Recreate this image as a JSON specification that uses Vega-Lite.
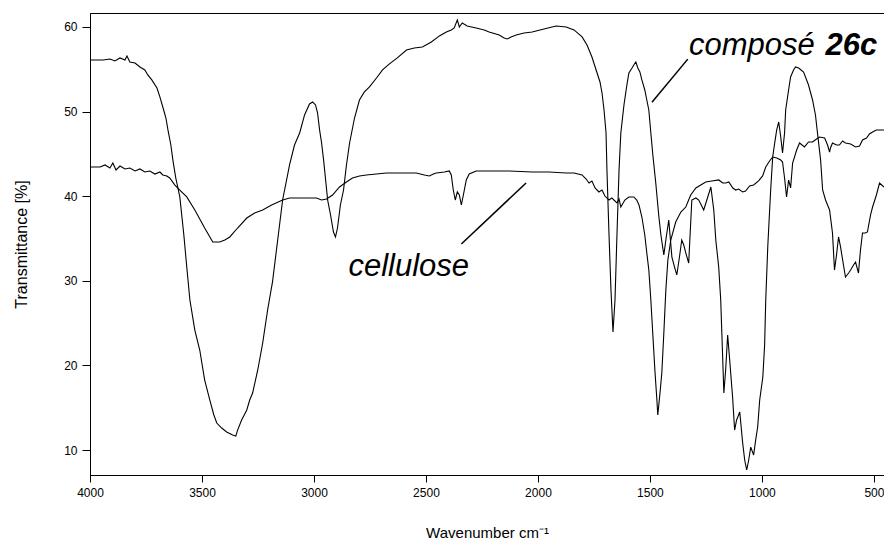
{
  "$schema": "https://vega.github.io/schema/vega-lite/v6.json",
  "width": 794,
  "height": 462,
  "autosize": {"type": "none"},
  "padding": {"left": 90, "top": 13, "right": 0, "bottom": 67},
  "background": "white",
  "config": {
    "view": {"stroke": "black", "strokeWidth": 1},
    "axis": {
      "grid": false,
      "domainColor": "black",
      "tickColor": "black",
      "labelColor": "black",
      "titleColor": "black",
      "labelFont": "Liberation Sans",
      "titleFont": "Liberation Sans",
      "labelFontSize": 12,
      "titleFontSize": 15,
      "titleFontWeight": "normal"
    }
  },
  "datasets": {
    "spectra": [
      {"s":"composé","w":4000,"T":56.10},{"s":"composé","w":3942,"T":56.10},{"s":"composé","w":3911,"T":56.22},{"s":"composé","w":3889,"T":55.98},{"s":"composé","w":3866,"T":56.34},{"s":"composé","w":3844,"T":56.10},{"s":"composé","w":3835,"T":56.57},{"s":"composé","w":3822,"T":55.86},{"s":"composé","w":3799,"T":55.74},{"s":"composé","w":3777,"T":55.27},{"s":"composé","w":3755,"T":54.92},{"s":"composé","w":3742,"T":54.33},{"s":"composé","w":3724,"T":53.74},{"s":"composé","w":3701,"T":52.79},{"s":"composé","w":3688,"T":51.73},{"s":"composé","w":3675,"T":50.54},{"s":"composé","w":3661,"T":49.24},{"s":"composé","w":3652,"T":47.83},{"s":"composé","w":3639,"T":46.05},{"s":"composé","w":3630,"T":44.27},{"s":"composé","w":3617,"T":42.15},{"s":"composé","w":3599,"T":39.91},{"s":"composé","w":3581,"T":35.41},{"s":"composé","w":3568,"T":31.63},{"s":"composé","w":3554,"T":27.73},{"s":"composé","w":3532,"T":24.18},{"s":"composé","w":3510,"T":21.82},{"s":"composé","w":3488,"T":18.27},{"s":"composé","w":3465,"T":15.91},{"s":"composé","w":3447,"T":14.14},{"s":"composé","w":3434,"T":13.19},{"s":"composé","w":3412,"T":12.60},{"s":"composé","w":3390,"T":12.13},{"s":"composé","w":3363,"T":11.77},{"s":"composé","w":3349,"T":11.65},{"s":"composé","w":3341,"T":12.36},{"s":"composé","w":3323,"T":13.55},{"s":"composé","w":3300,"T":14.73},{"s":"composé","w":3287,"T":15.91},{"s":"composé","w":3274,"T":16.74},{"s":"composé","w":3251,"T":19.46},{"s":"composé","w":3229,"T":22.65},{"s":"composé","w":3207,"T":26.55},{"s":"composé","w":3185,"T":29.91},{"s":"composé","w":3162,"T":34.82},{"s":"composé","w":3140,"T":39.55},{"s":"composé","w":3109,"T":43.69},{"s":"composé","w":3087,"T":46.05},{"s":"composé","w":3064,"T":47.47},{"s":"composé","w":3042,"T":49.60},{"s":"composé","w":3020,"T":50.90},{"s":"composé","w":3006,"T":51.13},{"s":"composé","w":2993,"T":50.78},{"s":"composé","w":2984,"T":49.83},{"s":"composé","w":2975,"T":47.83},{"s":"composé","w":2966,"T":46.29},{"s":"composé","w":2957,"T":44.27},{"s":"composé","w":2948,"T":41.91},{"s":"composé","w":2939,"T":39.55},{"s":"composé","w":2926,"T":37.78},{"s":"composé","w":2913,"T":35.77},{"s":"composé","w":2904,"T":35.18},{"s":"composé","w":2895,"T":36.24},{"s":"composé","w":2882,"T":38.96},{"s":"composé","w":2868,"T":40.73},{"s":"composé","w":2855,"T":43.69},{"s":"composé","w":2841,"T":46.29},{"s":"composé","w":2819,"T":49.24},{"s":"composé","w":2797,"T":51.37},{"s":"composé","w":2775,"T":52.32},{"s":"composé","w":2752,"T":52.91},{"s":"composé","w":2721,"T":53.97},{"s":"composé","w":2694,"T":54.92},{"s":"composé","w":2663,"T":55.63},{"s":"composé","w":2628,"T":56.34},{"s":"composé","w":2587,"T":57.28},{"s":"composé","w":2552,"T":57.52},{"s":"composé","w":2516,"T":57.64},{"s":"composé","w":2476,"T":58.23},{"s":"composé","w":2440,"T":58.94},{"s":"composé","w":2409,"T":59.41},{"s":"composé","w":2387,"T":59.65},{"s":"composé","w":2374,"T":59.88},{"s":"composé","w":2360,"T":60.83},{"s":"composé","w":2351,"T":60.00},{"s":"composé","w":2338,"T":60.47},{"s":"composé","w":2316,"T":60.12},{"s":"composé","w":2276,"T":59.88},{"s":"composé","w":2240,"T":59.65},{"s":"composé","w":2218,"T":59.41},{"s":"composé","w":2173,"T":59.05},{"s":"composé","w":2151,"T":58.70},{"s":"composé","w":2137,"T":58.58},{"s":"composé","w":2120,"T":58.82},{"s":"composé","w":2097,"T":59.05},{"s":"composé","w":2062,"T":59.29},{"s":"composé","w":2026,"T":59.41},{"s":"composé","w":1973,"T":59.76},{"s":"composé","w":1919,"T":60.12},{"s":"composé","w":1874,"T":60.00},{"s":"composé","w":1839,"T":59.65},{"s":"composé","w":1803,"T":58.82},{"s":"composé","w":1781,"T":57.87},{"s":"composé","w":1759,"T":56.45},{"s":"composé","w":1736,"T":54.56},{"s":"composé","w":1723,"T":53.50},{"s":"composé","w":1714,"T":52.20},{"s":"composé","w":1705,"T":50.19},{"s":"composé","w":1696,"T":47.47},{"s":"composé","w":1692,"T":43.10},{"s":"composé","w":1683,"T":35.65},{"s":"composé","w":1674,"T":28.91},{"s":"composé","w":1665,"T":23.95},{"s":"composé","w":1656,"T":27.73},{"s":"composé","w":1647,"T":35.65},{"s":"composé","w":1638,"T":43.10},{"s":"composé","w":1630,"T":47.47},{"s":"composé","w":1616,"T":50.78},{"s":"composé","w":1603,"T":53.14},{"s":"composé","w":1594,"T":54.56},{"s":"composé","w":1580,"T":55.15},{"s":"composé","w":1572,"T":55.51},{"s":"composé","w":1563,"T":55.86},{"s":"composé","w":1554,"T":55.15},{"s":"composé","w":1545,"T":54.68},{"s":"composé","w":1536,"T":53.74},{"s":"composé","w":1523,"T":52.55},{"s":"composé","w":1514,"T":51.37},{"s":"composé","w":1505,"T":50.19},{"s":"composé","w":1496,"T":47.47},{"s":"composé","w":1487,"T":44.87},{"s":"composé","w":1474,"T":41.56},{"s":"composé","w":1460,"T":37.54},{"s":"composé","w":1451,"T":35.41},{"s":"composé","w":1438,"T":33.05},{"s":"composé","w":1429,"T":34.82},{"s":"composé","w":1416,"T":37.19},{"s":"composé","w":1402,"T":32.81},{"s":"composé","w":1389,"T":31.51},{"s":"composé","w":1380,"T":30.69},{"s":"composé","w":1367,"T":33.05},{"s":"composé","w":1358,"T":34.82},{"s":"composé","w":1349,"T":34.23},{"s":"composé","w":1340,"T":33.29},{"s":"composé","w":1327,"T":32.10},{"s":"composé","w":1313,"T":39.55},{"s":"composé","w":1295,"T":39.79},{"s":"composé","w":1282,"T":39.55},{"s":"composé","w":1260,"T":38.37},{"s":"composé","w":1246,"T":39.55},{"s":"composé","w":1228,"T":41.09},{"s":"composé","w":1215,"T":38.37},{"s":"composé","w":1206,"T":34.82},{"s":"composé","w":1193,"T":31.63},{"s":"composé","w":1184,"T":27.73},{"s":"composé","w":1179,"T":23.83},{"s":"composé","w":1170,"T":16.74},{"s":"composé","w":1162,"T":19.46},{"s":"composé","w":1153,"T":23.59},{"s":"composé","w":1144,"T":20.64},{"s":"composé","w":1131,"T":16.26},{"s":"composé","w":1122,"T":12.36},{"s":"composé","w":1113,"T":13.55},{"s":"composé","w":1099,"T":14.49},{"s":"composé","w":1086,"T":10.83},{"s":"composé","w":1077,"T":8.82},{"s":"composé","w":1068,"T":7.64},{"s":"composé","w":1059,"T":8.82},{"s":"composé","w":1050,"T":10.35},{"s":"composé","w":1037,"T":9.41},{"s":"composé","w":1028,"T":11.18},{"s":"composé","w":1019,"T":12.72},{"s":"composé","w":1010,"T":15.91},{"s":"composé","w":996,"T":18.63},{"s":"composé","w":988,"T":22.41},{"s":"composé","w":983,"T":27.73},{"s":"composé","w":974,"T":34.00},{"s":"composé","w":961,"T":40.73},{"s":"composé","w":952,"T":44.63},{"s":"composé","w":943,"T":46.29},{"s":"composé","w":934,"T":47.83},{"s":"composé","w":925,"T":48.77},{"s":"composé","w":916,"T":47.00},{"s":"composé","w":908,"T":45.11},{"s":"composé","w":899,"T":47.47},{"s":"composé","w":894,"T":50.19},{"s":"composé","w":881,"T":52.55},{"s":"composé","w":872,"T":54.09},{"s":"composé","w":859,"T":54.92},{"s":"composé","w":850,"T":55.27},{"s":"composé","w":836,"T":55.15},{"s":"composé","w":814,"T":54.68},{"s":"composé","w":792,"T":53.14},{"s":"composé","w":774,"T":51.37},{"s":"composé","w":761,"T":49.60},{"s":"composé","w":752,"T":47.47},{"s":"composé","w":738,"T":44.27},{"s":"composé","w":729,"T":40.73},{"s":"composé","w":716,"T":39.55},{"s":"composé","w":707,"T":38.96},{"s":"composé","w":698,"T":38.37},{"s":"composé","w":685,"T":35.65},{"s":"composé","w":676,"T":31.28},{"s":"composé","w":667,"T":33.05},{"s":"composé","w":658,"T":35.18},{"s":"composé","w":649,"T":34.00},{"s":"composé","w":636,"T":31.87},{"s":"composé","w":627,"T":30.45},{"s":"composé","w":613,"T":30.92},{"s":"composé","w":604,"T":31.28},{"s":"composé","w":591,"T":31.87},{"s":"composé","w":582,"T":32.22},{"s":"composé","w":569,"T":30.92},{"s":"composé","w":560,"T":33.64},{"s":"composé","w":551,"T":35.65},{"s":"composé","w":538,"T":35.65},{"s":"composé","w":529,"T":35.77},{"s":"composé","w":515,"T":37.78},{"s":"composé","w":506,"T":38.72},{"s":"composé","w":489,"T":40.14},{"s":"composé","w":475,"T":41.56},{"s":"composé","w":455,"T":41.09},
      {"s":"cellulose","w":4000,"T":43.45},{"s":"cellulose","w":3955,"T":43.45},{"s":"cellulose","w":3933,"T":43.69},{"s":"cellulose","w":3911,"T":43.33},{"s":"cellulose","w":3898,"T":43.92},{"s":"cellulose","w":3884,"T":43.10},{"s":"cellulose","w":3866,"T":43.57},{"s":"cellulose","w":3844,"T":43.22},{"s":"cellulose","w":3822,"T":43.33},{"s":"cellulose","w":3799,"T":42.98},{"s":"cellulose","w":3777,"T":43.22},{"s":"cellulose","w":3755,"T":42.86},{"s":"cellulose","w":3733,"T":42.98},{"s":"cellulose","w":3710,"T":42.62},{"s":"cellulose","w":3688,"T":42.86},{"s":"cellulose","w":3675,"T":42.51},{"s":"cellulose","w":3657,"T":42.39},{"s":"cellulose","w":3644,"T":42.15},{"s":"cellulose","w":3621,"T":41.32},{"s":"cellulose","w":3599,"T":40.73},{"s":"cellulose","w":3568,"T":39.91},{"s":"cellulose","w":3532,"T":38.37},{"s":"cellulose","w":3488,"T":36.24},{"s":"cellulose","w":3452,"T":34.59},{"s":"cellulose","w":3421,"T":34.59},{"s":"cellulose","w":3398,"T":34.82},{"s":"cellulose","w":3376,"T":35.18},{"s":"cellulose","w":3341,"T":36.24},{"s":"cellulose","w":3300,"T":37.42},{"s":"cellulose","w":3265,"T":38.01},{"s":"cellulose","w":3229,"T":38.37},{"s":"cellulose","w":3189,"T":38.96},{"s":"cellulose","w":3140,"T":39.55},{"s":"cellulose","w":3109,"T":39.79},{"s":"cellulose","w":3064,"T":39.79},{"s":"cellulose","w":2989,"T":39.79},{"s":"cellulose","w":2966,"T":39.55},{"s":"cellulose","w":2944,"T":39.67},{"s":"cellulose","w":2917,"T":40.14},{"s":"cellulose","w":2886,"T":41.09},{"s":"cellulose","w":2855,"T":41.68},{"s":"cellulose","w":2828,"T":42.15},{"s":"cellulose","w":2797,"T":42.39},{"s":"cellulose","w":2766,"T":42.51},{"s":"cellulose","w":2721,"T":42.62},{"s":"cellulose","w":2677,"T":42.74},{"s":"cellulose","w":2619,"T":42.74},{"s":"cellulose","w":2543,"T":42.74},{"s":"cellulose","w":2507,"T":42.51},{"s":"cellulose","w":2485,"T":42.39},{"s":"cellulose","w":2467,"T":42.62},{"s":"cellulose","w":2454,"T":42.74},{"s":"cellulose","w":2418,"T":42.86},{"s":"cellulose","w":2396,"T":42.98},{"s":"cellulose","w":2387,"T":42.51},{"s":"cellulose","w":2378,"T":40.73},{"s":"cellulose","w":2369,"T":39.55},{"s":"cellulose","w":2360,"T":40.50},{"s":"cellulose","w":2351,"T":40.14},{"s":"cellulose","w":2342,"T":38.96},{"s":"cellulose","w":2333,"T":40.14},{"s":"cellulose","w":2320,"T":41.92},{"s":"cellulose","w":2307,"T":42.62},{"s":"cellulose","w":2276,"T":42.98},{"s":"cellulose","w":2218,"T":42.98},{"s":"cellulose","w":2129,"T":42.98},{"s":"cellulose","w":2026,"T":42.86},{"s":"cellulose","w":1950,"T":42.86},{"s":"cellulose","w":1874,"T":42.74},{"s":"cellulose","w":1839,"T":42.74},{"s":"cellulose","w":1803,"T":42.51},{"s":"cellulose","w":1785,"T":42.03},{"s":"cellulose","w":1772,"T":41.56},{"s":"cellulose","w":1759,"T":41.80},{"s":"cellulose","w":1745,"T":40.97},{"s":"cellulose","w":1728,"T":40.50},{"s":"cellulose","w":1714,"T":40.73},{"s":"cellulose","w":1701,"T":40.02},{"s":"cellulose","w":1683,"T":39.55},{"s":"cellulose","w":1670,"T":39.79},{"s":"cellulose","w":1661,"T":39.55},{"s":"cellulose","w":1647,"T":39.20},{"s":"cellulose","w":1638,"T":39.67},{"s":"cellulose","w":1630,"T":38.72},{"s":"cellulose","w":1612,"T":39.55},{"s":"cellulose","w":1594,"T":39.91},{"s":"cellulose","w":1572,"T":39.91},{"s":"cellulose","w":1559,"T":39.55},{"s":"cellulose","w":1549,"T":38.96},{"s":"cellulose","w":1536,"T":37.54},{"s":"cellulose","w":1523,"T":35.41},{"s":"cellulose","w":1514,"T":33.29},{"s":"cellulose","w":1505,"T":31.28},{"s":"cellulose","w":1496,"T":27.73},{"s":"cellulose","w":1487,"T":23.59},{"s":"cellulose","w":1478,"T":19.46},{"s":"cellulose","w":1469,"T":15.91},{"s":"cellulose","w":1465,"T":14.14},{"s":"cellulose","w":1456,"T":16.50},{"s":"cellulose","w":1447,"T":19.10},{"s":"cellulose","w":1438,"T":23.83},{"s":"cellulose","w":1429,"T":28.91},{"s":"cellulose","w":1420,"T":32.46},{"s":"cellulose","w":1407,"T":34.82},{"s":"cellulose","w":1385,"T":36.95},{"s":"cellulose","w":1362,"T":38.13},{"s":"cellulose","w":1340,"T":38.72},{"s":"cellulose","w":1318,"T":40.14},{"s":"cellulose","w":1295,"T":40.97},{"s":"cellulose","w":1273,"T":41.32},{"s":"cellulose","w":1251,"T":41.68},{"s":"cellulose","w":1224,"T":41.80},{"s":"cellulose","w":1193,"T":41.92},{"s":"cellulose","w":1175,"T":41.56},{"s":"cellulose","w":1162,"T":41.56},{"s":"cellulose","w":1148,"T":41.68},{"s":"cellulose","w":1130,"T":40.97},{"s":"cellulose","w":1117,"T":40.73},{"s":"cellulose","w":1104,"T":40.85},{"s":"cellulose","w":1086,"T":40.50},{"s":"cellulose","w":1073,"T":40.61},{"s":"cellulose","w":1055,"T":41.21},{"s":"cellulose","w":1037,"T":41.32},{"s":"cellulose","w":1015,"T":41.80},{"s":"cellulose","w":997,"T":42.39},{"s":"cellulose","w":983,"T":43.45},{"s":"cellulose","w":966,"T":44.16},{"s":"cellulose","w":952,"T":44.63},{"s":"cellulose","w":934,"T":44.52},{"s":"cellulose","w":916,"T":44.27},{"s":"cellulose","w":908,"T":44.04},{"s":"cellulose","w":899,"T":42.15},{"s":"cellulose","w":890,"T":39.91},{"s":"cellulose","w":881,"T":41.92},{"s":"cellulose","w":872,"T":40.97},{"s":"cellulose","w":863,"T":43.92},{"s":"cellulose","w":845,"T":45.46},{"s":"cellulose","w":832,"T":46.29},{"s":"cellulose","w":810,"T":45.82},{"s":"cellulose","w":792,"T":46.41},{"s":"cellulose","w":774,"T":46.41},{"s":"cellulose","w":756,"T":46.76},{"s":"cellulose","w":743,"T":47.00},{"s":"cellulose","w":720,"T":46.88},{"s":"cellulose","w":707,"T":46.05},{"s":"cellulose","w":698,"T":45.22},{"s":"cellulose","w":694,"T":45.70},{"s":"cellulose","w":685,"T":46.29},{"s":"cellulose","w":667,"T":46.05},{"s":"cellulose","w":654,"T":46.05},{"s":"cellulose","w":640,"T":46.52},{"s":"cellulose","w":627,"T":46.29},{"s":"cellulose","w":604,"T":46.17},{"s":"cellulose","w":582,"T":45.82},{"s":"cellulose","w":564,"T":45.93},{"s":"cellulose","w":551,"T":46.64},{"s":"cellulose","w":533,"T":46.88},{"s":"cellulose","w":520,"T":47.35},{"s":"cellulose","w":506,"T":47.59},{"s":"cellulose","w":489,"T":47.83},{"s":"cellulose","w":475,"T":47.83},{"s":"cellulose","w":455,"T":47.83}
    ],
    "leaders": [
      {"w1":1491,"T1":51.1,"w2":1331,"T2":56.2},
      {"w1":2342,"T1":34.35,"w2":2053,"T2":41.56}
    ],
    "labels": [
      {"w":1326,"T":56.7,"text":"composé","bold":"normal"},
      {"w":716,"T":56.7,"text":"26c","bold":"bold"},
      {"w":2846,"T":30.57,"text":"cellulose","bold":"normal"}
    ]
  },
  "layer": [
    {
      "data": {"name": "spectra"},
      "mark": {"type": "line", "color": "black", "strokeWidth": 1.1, "clip": true},
      "encoding": {
        "x": {
          "field": "w", "type": "quantitative",
          "scale": {"domain": [4000, 455], "nice": false, "zero": false},
          "axis": {"values": [4000, 3500, 3000, 2500, 2000, 1500, 1000, 500], "format": "d", "tickSize": 7, "labelPadding": 5, "title": "Wavenumber cm⁻¹", "titlePadding": 27, "labelFlush": false, "labelOverlap": false}
        },
        "y": {
          "field": "T", "type": "quantitative",
          "scale": {"domain": [7.05, 61.65], "nice": false, "zero": false},
          "axis": {"values": [10, 20, 30, 40, 50, 60], "format": "d", "tickSize": 8, "labelPadding": 5, "title": "Transmittance [%]", "titlePadding": 34, "titleFontSize": 16}
        },
        "detail": {"field": "s", "type": "nominal"}
      }
    },
    {
      "data": {"name": "leaders"},
      "mark": {"type": "rule", "color": "black", "strokeWidth": 1.5},
      "encoding": {
        "x": {"field": "w1", "type": "quantitative"},
        "y": {"field": "T1", "type": "quantitative"},
        "x2": {"field": "w2"},
        "y2": {"field": "T2"}
      }
    },
    {
      "data": {"name": "labels"},
      "transform": [{"filter": "datum.bold == 'normal'"}],
      "mark": {"type": "text", "font": "Liberation Sans", "fontSize": 31, "fontStyle": "italic", "fontWeight": "normal", "align": "left", "baseline": "alphabetic", "color": "black"},
      "encoding": {
        "x": {"field": "w", "type": "quantitative"},
        "y": {"field": "T", "type": "quantitative"},
        "text": {"field": "text"}
      }
    },
    {
      "data": {"name": "labels"},
      "transform": [{"filter": "datum.bold == 'bold'"}],
      "mark": {"type": "text", "font": "Liberation Sans", "fontSize": 31, "fontStyle": "italic", "fontWeight": "bold", "align": "left", "baseline": "alphabetic", "color": "black"},
      "encoding": {
        "x": {"field": "w", "type": "quantitative"},
        "y": {"field": "T", "type": "quantitative"},
        "text": {"field": "text"}
      }
    }
  ]
}
